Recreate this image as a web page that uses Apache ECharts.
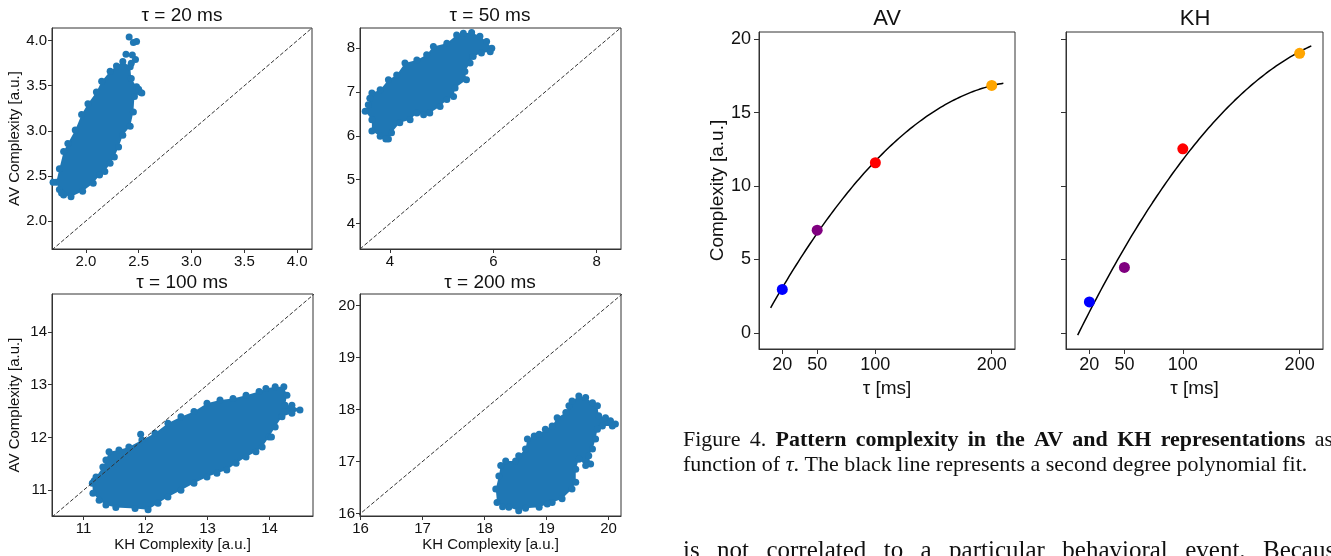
<!DOCTYPE html>
<html>
<head>
<meta charset="utf-8">
<script src="https://cdn.jsdelivr.net/npm/echarts@6/dist/echarts.min.js"></script>
<style>
html,body{margin:0;padding:0;background:#fff;}
#chart{width:1331px;height:556px;}
</style>
</head>
<body>
<div id="chart"></div>
<script>
// ---------- DATA ----------
const panelTitles = ['τ = 20 ms', 'τ = 50 ms', 'τ = 100 ms', 'τ = 200 ms'];
// axis limits [x0,x1,y0,y1]
const lim20 = [1.68, 4.14, 1.69, 4.14];
const lim50 = [3.42, 8.47, 3.42, 8.46];
const lim100 = [10.49, 14.70, 10.51, 14.72];
const lim200 = [15.99, 20.20, 15.95, 20.22];
const ticks20 = [2.0, 2.5, 3.0, 3.5, 4.0];
const ticks50x = [4, 6, 8];
const ticks50y = [4, 5, 6, 7, 8];
const ticks100 = [11, 12, 13, 14];
const ticks200 = [16, 17, 18, 19, 20];

// outlines of dense point clouds (KH, AV)
const cloud20 = [[1.72,2.43],[1.75,2.58],[1.79,2.77],[1.83,2.86],[1.90,3.01],[1.96,3.18],[2.02,3.30],[2.10,3.43],[2.15,3.55],[2.23,3.66],[2.29,3.72],[2.35,3.77],[2.42,3.71],[2.43,3.58],[2.48,3.49],[2.51,3.43],[2.46,3.38],[2.45,3.21],[2.42,3.05],[2.35,2.95],[2.31,2.82],[2.27,2.71],[2.23,2.64],[2.18,2.55],[2.13,2.51],[2.07,2.42],[1.97,2.33],[1.86,2.27],[1.79,2.29],[1.75,2.35]];
const out20 = [[2.41,4.04],[2.45,3.98],[2.48,3.99],[2.44,3.84],[2.47,3.79],[2.38,3.85],[2.43,3.75],[2.50,3.46],[2.53,3.42],[1.69,2.43],[1.77,2.31]];
const cloud50 = [[3.65,6.98],[3.81,7.05],[3.97,7.28],[4.13,7.39],[4.29,7.66],[4.52,7.73],[4.71,7.85],[4.84,8.04],[5.10,8.11],[5.29,8.30],[5.42,8.34],[5.58,8.36],[5.74,8.27],[5.87,8.15],[5.97,8.00],[5.94,7.92],[5.77,7.89],[5.61,7.81],[5.55,7.66],[5.45,7.47],[5.48,7.28],[5.26,7.09],[5.23,6.90],[5.10,6.83],[4.97,6.67],[4.77,6.52],[4.65,6.48],[4.52,6.52],[4.39,6.37],[4.19,6.30],[4.03,6.07],[3.97,5.93],[3.81,5.99],[3.65,6.11],[3.65,6.37],[3.52,6.56],[3.58,6.71],[3.61,6.86]];
const out50 = [[3.92,5.93]];
const cloud100 = [[11.36,11.57],[11.41,11.73],[11.57,11.76],[11.73,11.82],[11.94,11.95],[12.15,12.08],[12.36,12.27],[12.57,12.39],[12.78,12.49],[12.99,12.65],[13.20,12.71],[13.41,12.74],[13.62,12.80],[13.83,12.87],[13.94,12.93],[14.09,12.96],[14.23,12.96],[14.28,12.80],[14.25,12.61],[14.36,12.61],[14.49,12.52],[14.36,12.46],[14.20,12.39],[14.09,12.20],[13.99,12.01],[13.88,11.82],[13.78,11.73],[13.62,11.63],[13.46,11.51],[13.31,11.38],[13.15,11.32],[12.99,11.25],[12.78,11.13],[12.57,11.00],[12.36,10.87],[12.20,10.75],[12.04,10.63],[11.83,10.65],[11.52,10.67],[11.36,10.72],[11.25,10.81],[11.15,10.94],[11.14,11.13],[11.20,11.25],[11.31,11.44]];
const out100 = [[11.92,12.06],[11.17,11.18],[14.03,12.01]];
const cloud200 = [[18.20,16.21],[18.18,16.47],[18.23,16.72],[18.26,16.92],[18.34,17.01],[18.50,17.01],[18.55,17.11],[18.66,17.24],[18.69,17.43],[18.80,17.49],[18.88,17.52],[18.98,17.62],[19.09,17.68],[19.17,17.84],[19.31,17.94],[19.36,18.07],[19.41,18.16],[19.52,18.26],[19.63,18.23],[19.74,18.13],[19.82,18.07],[19.84,17.88],[19.95,17.84],[20.03,17.78],[20.11,17.72],[20.06,17.68],[19.90,17.68],[19.82,17.62],[19.79,17.43],[19.74,17.24],[19.68,17.11],[19.71,16.95],[19.63,16.92],[19.52,17.04],[19.47,16.85],[19.47,16.60],[19.41,16.47],[19.25,16.28],[19.09,16.21],[19.01,16.18],[18.88,16.12],[18.66,16.10],[18.55,16.05],[18.39,16.12],[18.29,16.13]];
const out200 = [];

// right panels
const tau = [20, 50, 100, 200];
const avComplexity = [2.96, 7.00, 11.59, 16.86];
const khComplexity = [2.11, 4.46, 12.54, 19.05];
const pointColors = ['#0000ff', '#800080', '#ff0000', '#ffa500'];
const fitRange = [10, 210];
const tauLim = [0, 220];
const complexityLim = [-1.1, 20.5];
const tauTicks = [20, 50, 100, 200];
const complexityTicks = [0, 5, 10, 15, 20];

// caption text
const captionLine1 = [['Figure', 'n'], ['4.', 'n'], ['Pattern', 'b'], ['complexity', 'b'], ['in', 'b'], ['the', 'b'], ['AV', 'b'], ['and', 'b'], ['KH', 'b'], ['representations', 'b'], ['as', 'n']];
const captionLine2 = 'function of {i|τ}. The black line represents a second degree polynomial fit.';
const bodyLine = ['is', 'not', 'correlated', 'to', 'a', 'particular', 'behavioral', 'event.', 'Because'];

// ---------- helpers ----------
const BLUE = '#1f77b4';
const SPINE = '#333';
const FONT = 'Liberation Sans, Arial, sans-serif';
const SERIF = 'Liberation Serif, Times New Roman, serif';

function polyfit2(xs, ys) {
  let S = [0,0,0,0,0], T = [0,0,0];
  for (let i = 0; i < xs.length; i++) {
    let p = 1;
    for (let k = 0; k < 5; k++) { S[k] += p; if (k < 3) T[k] += p * ys[i]; p *= xs[i]; }
  }
  const A = [[S[0],S[1],S[2],T[0]],[S[1],S[2],S[3],T[1]],[S[2],S[3],S[4],T[2]]];
  for (let c = 0; c < 3; c++) {
    for (let r = c + 1; r < 3; r++) {
      const f = A[r][c] / A[c][c];
      for (let k = c; k < 4; k++) A[r][k] -= f * A[c][k];
    }
  }
  const coef = [0,0,0];
  for (let r = 2; r >= 0; r--) {
    let s = A[r][3];
    for (let k = r + 1; k < 3; k++) s -= A[r][k] * coef[k];
    coef[r] = s / A[r][r];
  }
  return coef;
}
function fitCurve(xs, ys) {
  const c = polyfit2(xs, ys);
  const out = [];
  for (let t = fitRange[0]; t <= fitRange[1]; t += 2) out.push([t, c[0] + c[1]*t + c[2]*t*t]);
  return out;
}

function axis(gridIndex, min, max, ticks, o) {
  o = o || {};
  return {
    type: 'value', gridIndex, min, max,
    axisLine: { show: true, onZero: false, lineStyle: { color: SPINE, width: 1 } },
    axisTick: { show: true, length: o.tickLen || 4, customValues: ticks, lineStyle: { color: SPINE, width: 1 } },
    axisLabel: { show: o.noLabel ? false : true, customValues: ticks, fontSize: o.fs || 15, fontFamily: FONT, color: '#111', margin: o.margin || 5,
      formatter: o.fmt || (v => String(v)) },
    splitLine: { show: false },
    name: o.name || '', nameLocation: 'middle', nameGap: o.nameGap || 20,
    nameTextStyle: { fontSize: o.nfs || 15, fontFamily: FONT, color: '#111' }
  };
}

const grids = [
  { left: 52, top: 28, width: 260, height: 221 },
  { left: 360, top: 28, width: 261, height: 221 },
  { left: 52, top: 294, width: 261, height: 222 },
  { left: 360, top: 294, width: 261, height: 222 },
  { left: 759, top: 32, width: 256, height: 317 },
  { left: 1066, top: 32, width: 257, height: 317 }
].map(g => Object.assign({ show: true, borderColor: SPINE, borderWidth: 1, backgroundColor: 'transparent', containLabel: false }, g));

const f1 = v => v.toFixed(1);
const xAxes = [
  axis(0, lim20[0], lim20[1], ticks20, { fmt: f1 }),
  axis(1, lim50[0], lim50[1], ticks50x, {}),
  axis(2, lim100[0], lim100[1], ticks100, { name: 'KH Complexity [a.u.]', nameGap: 21 }),
  axis(3, lim200[0], lim200[1], ticks200, { name: 'KH Complexity [a.u.]', nameGap: 21 }),
  axis(4, tauLim[0], tauLim[1], tauTicks, { fs: 18, nfs: 19, margin: 7, tickLen: 5, name: 'τ [ms]', nameGap: 22 }),
  axis(5, tauLim[0], tauLim[1], tauTicks, { fs: 18, nfs: 19, margin: 7, tickLen: 5, name: 'τ [ms]', nameGap: 22 })
];
const yAxes = [
  axis(0, lim20[2], lim20[3], ticks20, { fmt: f1, name: 'AV Complexity [a.u.]', nameGap: 30 }),
  axis(1, lim50[2], lim50[3], ticks50y, {}),
  axis(2, lim100[2], lim100[3], ticks100, { name: 'AV Complexity [a.u.]', nameGap: 30 }),
  axis(3, lim200[2], lim200[3], ticks200, {}),
  axis(4, complexityLim[0], complexityLim[1], complexityTicks, { fs: 18, nfs: 19, margin: 8, tickLen: 5, name: 'Complexity [a.u.]', nameGap: 31 }),
  axis(5, complexityLim[0], complexityLim[1], complexityTicks, { fs: 18, tickLen: 5, noLabel: true })
];

const series = [];
const clouds = [[cloud20, out20, lim20], [cloud50, out50, lim50], [cloud100, out100, lim100], [cloud200, out200, lim200]];
clouds.forEach(([outline, extra, lim], i) => {
  series.push({
    type: 'custom', xAxisIndex: i, yAxisIndex: i, silent: true, clip: true,
    data: outline,
    renderItem: function (params, api) {
      if (params.dataIndex !== 0) return null;
      return { type: 'polygon', shape: { points: outline.map(p => api.coord(p)) }, style: { fill: BLUE } };
    }
  });
  series.push({
    type: 'scatter', xAxisIndex: i, yAxisIndex: i, silent: true,
    symbolSize: 7, itemStyle: { color: BLUE, opacity: 1 },
    data: outline.concat(extra)
  });
  const lo = Math.min(lim[0], lim[2]), hi = Math.max(lim[1], lim[3]);
  series.push({
    type: 'line', xAxisIndex: i, yAxisIndex: i, silent: true, symbol: 'none', clip: true, z: 5,
    lineStyle: { color: '#333', width: 1, type: [4, 2] },
    data: [[lo, lo], [hi, hi]]
  });
});
[[avComplexity, 4], [khComplexity, 5]].forEach(([vals, g]) => {
  series.push({
    type: 'line', xAxisIndex: g, yAxisIndex: g, silent: true, symbol: 'none', smooth: false,
    lineStyle: { color: '#000', width: 1.5 },
    data: fitCurve(tau, vals)
  });
  series.push({
    type: 'scatter', xAxisIndex: g, yAxisIndex: g, silent: true, symbolSize: 11, z: 4,
    data: tau.map((t, k) => ({ value: [t, vals[k]], itemStyle: { color: pointColors[k], opacity: 1 } }))
  });
});

// text helpers
const ctx = document.createElement('canvas').getContext('2d');
function measure(t, font) { ctx.font = font; return ctx.measureText(t).width; }
function justify(words, fonts, x0, x1, y) {
  const widths = words.map((w, i) => measure(w, fonts[i]));
  const total = widths.reduce((a, b) => a + b, 0);
  const gap = (x1 - x0 - total) / (words.length - 1);
  const els = [];
  let x = x0;
  words.forEach((w, i) => {
    if (w) els.push({ type: 'text', x, y, silent: true, style: { text: w, font: fonts[i], fill: '#111', align: 'left', verticalAlign: 'middle' } });
    x += widths[i] + gap;
  });
  return els;
}
function txt(x, y, text, font) {
  return { type: 'text', x, y, silent: true, style: { text, font, fill: '#111', align: 'center', verticalAlign: 'middle' } };
}
const titleFont = '19px ' + FONT;
const capN = '22px ' + SERIF, capB = 'bold 22px ' + SERIF;
const bodyF = '25px ' + SERIF;
const graphics = [
  txt(182, 16, panelTitles[0], titleFont),
  txt(490, 16, panelTitles[1], titleFont),
  txt(182, 283, panelTitles[2], titleFont),
  txt(490, 283, panelTitles[3], titleFont),
  txt(887, 19, 'AV', '22px ' + FONT),
  txt(1195, 19, 'KH', '22px ' + FONT),
  ...justify(captionLine1.map(w => w[0]), captionLine1.map(w => w[1] === 'b' ? capB : capN), 683, 1333, 440),
  { type: 'text', x: 683, y: 465, silent: true, style: {
      text: captionLine2, font: capN, fill: '#111', verticalAlign: 'middle', align: 'left',
      rich: { i: { font: 'italic 22px ' + SERIF, fill: '#111' } } } },
  ...justify(bodyLine, bodyLine.map(() => bodyF), 683, 1263 + measure('Because', bodyF), 551)
];

const chart = echarts.init(document.getElementById('chart'), null, { renderer: 'canvas' });
chart.setOption({
  animation: false,
  backgroundColor: '#fff',
  grid: grids,
  xAxis: xAxes,
  yAxis: yAxes,
  series,
  graphic: graphics
});
</script>
</body>
</html>
